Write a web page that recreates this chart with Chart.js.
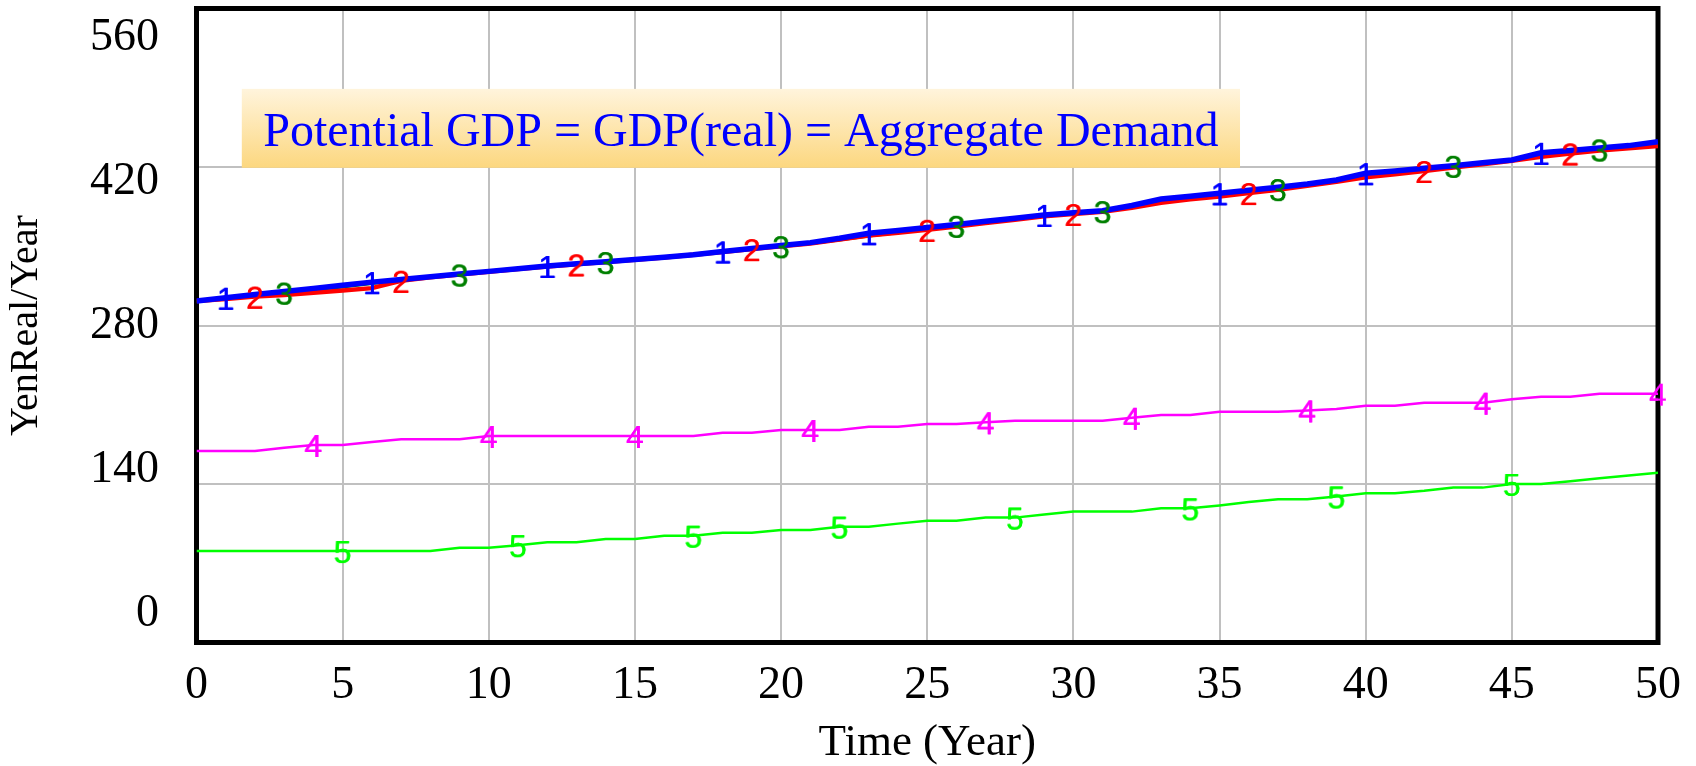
<!DOCTYPE html>
<html lang="en">
<head>
<meta charset="UTF-8">
<title>Potential GDP = GDP(real) = Aggregate Demand</title>
<style>
    body { margin: 0; background: #fff; }
    #wrap { width: 1696px; height: 766px; }
</style>
</head>
<body>
<div id="wrap"><canvas id="gdpChart" width="1696" height="766"></canvas></div>
<script src="https://cdn.jsdelivr.net/npm/chart.js"></script>
<script>
const years = [0, 1, 2, 3, 4, 5, 6, 7, 8, 9, 10, 11, 12, 13, 14, 15, 16, 17, 18, 19, 20,
    21, 22, 23, 24, 25, 26, 27, 28, 29, 30, 31, 32, 33, 34, 35, 36, 37, 38, 39, 40,
    41, 42, 43, 44, 45, 46, 47, 48, 49, 50];

// 1: blue (thick)
const potentialGdp = [301.7, 304.5, 307.3, 310.0, 312.8, 315.5, 318.3, 320.7, 323.1, 325.5, 327.8,
    330.2, 332.6, 334.5, 336.4, 338.3, 340.2, 342.5, 345.4, 348.1, 350.6,
    353.2, 357.0, 361.5, 364.0, 366.5, 369.2, 372.0, 374.8, 377.7, 379.6,
    381.4, 386.0, 391.7, 394.2, 396.8, 399.5, 402.2, 405.0, 408.5, 414.5,
    416.5, 418.8, 421.2, 423.7, 426.2, 432.5, 434.5, 436.7, 438.9, 442.4];
// 2: red
const gdpReal = [301.7, 303.5, 305.5, 307.0, 309.0, 311.0, 313.0, 319.5, 322.5, 325.0, 327.5,
    330.0, 332.0, 334.0, 336.0, 338.0, 340.0, 342.5, 345.0, 347.5, 350.0,
    352.5, 356.0, 359.5, 362.0, 364.5, 367.5, 370.5, 373.5, 376.5, 378.5,
    380.5, 384.0, 388.5, 391.5, 394.0, 397.0, 400.0, 403.5, 407.0, 411.0,
    413.5, 416.5, 419.5, 422.5, 425.5, 429.0, 432.0, 434.5, 436.5, 438.6];
// 3: dark green
const aggregateDemand = [301.7, 304.0, 306.5, 309.0, 311.5, 314.0, 317.0, 320.0, 323.0, 325.0, 327.5,
    330.0, 332.0, 334.0, 336.0, 338.0, 340.0, 342.5, 345.0, 347.5, 350.0,
    352.5, 355.5, 359.0, 362.0, 365.0, 368.0, 371.0, 374.0, 377.0, 379.0,
    381.0, 385.0, 390.0, 393.0, 395.5, 398.0, 400.5, 403.5, 407.0, 412.0,
    415.0, 418.0, 421.0, 423.5, 426.0, 430.0, 433.0, 435.5, 438.0, 441.0];
// 4: magenta
const line4 = [169.2, 169.2, 169.2, 172.0, 174.5, 174.5, 177.0, 179.5, 179.5, 179.5, 182.4,
    182.4, 182.4, 182.4, 182.4, 182.4, 182.4, 182.4, 185.3, 185.3, 187.7,
    187.7, 187.7, 190.6, 190.6, 193.0, 193.0, 194.5, 195.9, 195.9, 195.9,
    195.9, 198.5, 201.0, 201.0, 203.9, 203.9, 203.9, 205.0, 206.3, 209.2,
    209.2, 211.8, 211.8, 211.8, 214.8, 217.1, 217.1, 219.8, 219.8, 219.8];
// 5: lime
const line5 = [80.8, 80.8, 80.8, 80.8, 80.8, 80.8, 80.8, 80.8, 80.8, 83.7, 83.7,
    86.0, 88.5, 88.5, 91.4, 91.4, 94.3, 94.3, 97.0, 97.0, 99.4,
    99.4, 102.3, 102.3, 105.0, 107.6, 107.6, 110.3, 110.3, 113.0, 115.6,
    115.6, 115.6, 118.5, 118.5, 121.0, 124.0, 126.5, 126.5, 129.0, 131.8,
    131.8, 134.0, 136.8, 136.8, 140.0, 140.0, 142.5, 145.0, 147.5, 150.0];

// years where the series number is written on the line
const marks1 = [1, 6, 12, 18, 23, 29, 35, 40, 46];
const marks2 = [2, 7, 13, 19, 25, 30, 36, 42, 47];
const marks3 = [3, 9, 14, 20, 26, 31, 37, 43, 48];
const marks4 = [4, 10, 15, 21, 27, 32, 38, 44, 50];
const marks5 = [5, 11, 17, 22, 28, 34, 39, 45];

const yTicks = [0, 140, 280, 420, 560];
const noteText = 'Potential GDP = GDP(real) = Aggregate Demand';

const SERIF = '"Liberation Serif", "Times New Roman", serif';

function digitImage(txt, color) {
    const c = document.createElement('canvas');
    c.width = 24; c.height = 32;
    const g = c.getContext('2d');
    g.font = '32px "Liberation Sans", Arial, sans-serif';
    g.fillStyle = color;
    g.textAlign = 'center';
    g.textBaseline = 'alphabetic';
    g.fillText(txt, 12, 27.5);
    return c;
}

function makeSeries(label, values, marks, color, width) {
    const img = digitImage(label, color);
    return {
        label: label,
        data: years.map((x, i) => ({x: x, y: values[i]})),
        borderColor: color,
        borderWidth: width,
        tension: 0,
        pointStyle: img,
        pointRadius: ctx => (ctx.raw && marks.includes(ctx.raw.x)) ? 1 : 0,
        pointHoverRadius: 0
    };
}

// no extra room for half-labels at the axis ends
function noPad(s) {
    s.paddingTop = 0; s.paddingBottom = 0;
    s.paddingLeft = 0; s.paddingRight = 0;
}

// note box and the black frame, drawn under the lines
const frameAndNote = {
    id: 'frameAndNote',
    beforeDatasetsDraw(chart) {
        const {ctx, chartArea: a, scales: {x, y}} = chart;
        const left = x.getPixelForValue(1.55), right = x.getPixelForValue(35.7);
        const top = y.getPixelForValue(489), bottom = y.getPixelForValue(419.3);
        ctx.save();
        const grad = ctx.createLinearGradient(0, top, 0, bottom);
        grad.addColorStop(0, '#fff4dc');
        grad.addColorStop(1, '#fcd77f');
        ctx.fillStyle = grad;
        ctx.fillRect(left, top, right - left, bottom - top);
        ctx.fillStyle = '#0000ff';
        ctx.font = '48px ' + SERIF;
        ctx.textAlign = 'center';
        ctx.textBaseline = 'alphabetic';
        ctx.fillText(noteText, (left + right) / 2, bottom - 22);
        ctx.strokeStyle = '#000';
        ctx.lineWidth = 5;
        ctx.strokeRect(a.left, a.top, a.width, a.height);
        ctx.restore();
    },
    // put the series numbers on top of every line
    afterDatasetsDraw(chart) {
        chart.data.datasets.forEach((ds, i) => {
            chart.getDatasetMeta(i).data.forEach(pt => {
                if (pt.options.radius > 0) pt.draw(chart.ctx, chart.chartArea);
            });
        });
    }
};

new Chart(document.getElementById('gdpChart'), {
    type: 'line',
    data: {
        datasets: [
            makeSeries('1', potentialGdp, marks1, '#0000ff', 5.5),
            makeSeries('2', gdpReal, marks2, '#ff0000', 4.5),
            makeSeries('3', aggregateDemand, marks3, '#008000', 3),
            makeSeries('4', line4, marks4, '#ff00ff', 2.5),
            makeSeries('5', line5, marks5, '#00ff00', 2.5)
        ]
    },
    options: {
        responsive: false,
        animation: false,
        layout: { padding: { top: 8.5, right: 38, left: 0, bottom: 0 } },
        plugins: { legend: { display: false }, tooltip: { enabled: false } },
        scales: {
            x: {
                type: 'linear', min: 0, max: 50,
                ticks: { stepSize: 5, color: '#000', padding: 16, maxRotation: 0, autoSkip: false,
                         font: { family: SERIF, size: 46 } },
                grid: { color: '#c0c0c0', lineWidth: 2, drawTicks: false },
                border: { display: false },
                title: { display: true, text: 'Time (Year)', color: '#000',
                         font: { family: SERIF, size: 45, lineHeight: 1 }, padding: { top: 0, bottom: 0 } },
                afterFit: s => { s.height = 123.5; noPad(s); }
            },
            y: {
                min: 0, max: 560,
                ticks: { display: false, stepSize: 140 },
                grid: { color: '#c0c0c0', lineWidth: 2, drawTicks: false },
                border: { display: false },
                afterFit: s => { s.width = 0; noPad(s); }
            },
            yLabels: {
                position: 'left', min: -27.6, max: 588.2,
                afterBuildTicks: s => { s.ticks = yTicks.map(v => ({ value: v })); },
                ticks: { color: '#000', padding: 37.5, font: { family: SERIF, size: 46 } },
                grid: { display: false, drawTicks: false },
                border: { display: false },
                title: { display: true, text: 'YenReal/Year', color: '#000',
                         font: { family: SERIF, size: 40, lineHeight: 1 }, padding: { top: 6, bottom: 0 } },
                afterFit: s => { s.width = 196.5; noPad(s); }
            }
        }
    },
    plugins: [frameAndNote]
});
</script>
</body>
</html>
